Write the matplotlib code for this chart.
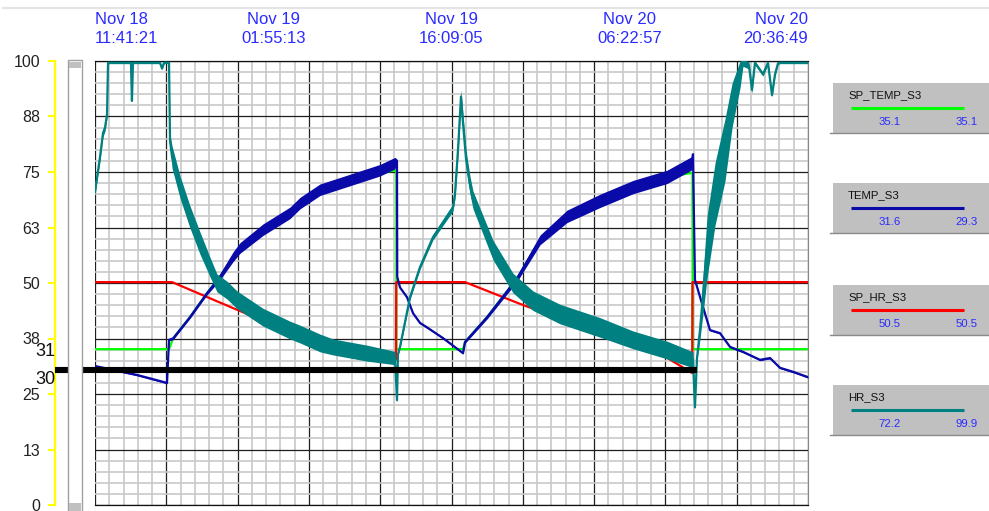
import matplotlib.pyplot as plt
from matplotlib.patches import Rectangle
from matplotlib.ticker import FixedLocator, MultipleLocator

plt.rcParams['font.family'] = ['Liberation Sans', 'DejaVu Sans']

# time axis: hours since Nov 18 11:41:21 (window ends Nov 20 20:36:49)
span_h = 56.924
time_labels = ['Nov 18\n11:41:21', 'Nov 19\n01:55:13', 'Nov 19\n16:09:05',
               'Nov 20\n06:22:57', 'Nov 20\n20:36:49']
y_ticks = [0, 12.5, 25, 37.5, 50, 62.5, 75, 87.5, 100]
y_tick_labels = ['0', '13', '25', '38', '50', '63', '75', '88', '100']

# HR_S3 (teal) + half width of its noise band
hr_t = [0.00, 0.40, 0.64, 0.80, 0.96, 1.04, 2.87, 2.95, 3.03, 5.19, 5.35, 5.51, 5.91,
        5.99, 6.15, 6.79, 7.58, 8.38, 9.18, 9.74, 10.54, 11.34, 13.41, 15.57, 16.37, 17.96, 19.00, 21.72, 23.95,
        24.11, 24.19, 24.35, 25.15, 25.95, 26.98, 28.58, 28.74, 28.98, 29.22, 29.38, 29.62, 29.94, 30.18,
        31.78, 33.37, 34.97, 37.13, 40.32, 42.95, 45.67, 47.74,
        47.90, 48.06, 48.30, 48.62, 48.86, 49.50, 50.30, 50.86, 51.50, 51.73, 52.21, 52.45, 52.69, 53.33,
        53.73, 54.05, 54.29, 54.53, 54.69, 56.92]
hr_v = [70.5, 78.4, 83.8, 85.0, 88.0, 99.6, 99.6, 91.0, 99.6, 99.6, 98.3, 99.6, 99.6,
        82.0, 78.4, 71.6, 64.9, 59.0, 53.6, 50.0, 48.4, 46.2, 42.3, 39.4, 38.5, 36.5, 35.6, 34.2, 33.1,
        23.6, 34.0, 35.6, 46.8, 53.6, 60.3, 67.0, 70.0, 80.0, 92.0, 86.0, 78.0, 72.0, 68.7,
        57.4, 50.0, 46.0, 43.0, 40.0, 37.2, 34.9, 32.7,
        22.0, 33.0, 39.4, 50.0, 58.0, 70.0, 80.0, 90.0, 97.0, 99.6, 99.0, 93.5, 99.6, 97.0,
        99.6, 92.3, 97.0, 99.5, 99.6, 99.6]
hr_noise = [0.5, 0.8, 0.8, 0.8, 0.8, 0.2, 0.2, 0.4, 0.2, 0.2, 0.2, 0.2, 0.2,
            1.5, 2.5, 2.5, 2.5, 2.5, 2.2, 2.0, 2.0, 2.0, 2.0, 2.0, 2.0, 2.0, 1.8, 1.8, 1.5,
            0.4, 0.4, 0.4, 0.5, 0.5, 0.6, 0.8, 1.0, 1.5, 1.5, 2.0, 2.0, 2.0, 2.0,
            2.2, 2.2, 2.2, 2.2, 2.2, 2.0, 2.0, 1.8,
            0.4, 0.4, 2.0, 5.0, 7.0, 7.0, 7.0, 5.0, 3.0, 0.8, 0.8, 0.8, 0.4, 0.4,
            0.4, 0.4, 0.4, 0.3, 0.2, 0.2]

# TEMP_S3 (dark blue)
temp_t = [0.00, 3.35, 5.75, 5.91, 6.23, 7.58, 8.94, 9.98, 11.02, 11.58, 13.41, 15.57, 16.37, 17.96, 20.36, 22.75, 23.95, 24.11,
          24.13, 24.35, 24.91, 25.39, 25.95, 26.51, 27.78, 29.38, 29.54, 31.30, 33.69, 35.53, 37.68, 40.32, 42.95, 45.67, 47.66, 47.74,
          47.90, 48.54, 49.10, 49.90, 50.70, 51.73, 53.09, 53.89, 54.69, 55.73, 56.92]
temp_v = [31.3, 29.3, 27.5, 37.2, 37.5, 42.3, 47.7, 51.4, 55.9, 57.9, 62.0, 65.8, 68.0, 71.0, 73.2, 75.4, 77.0, 77.5,
          51.4, 49.0, 46.8, 43.2, 41.0, 40.0, 37.6, 34.2, 36.7, 42.3, 51.0, 59.7, 65.0, 68.5, 71.6, 73.9, 77.0, 79.0,
          50.7, 44.6, 39.4, 38.7, 35.6, 34.5, 32.7, 33.1, 30.9, 30.0, 28.8]
temp_noise = [0.2, 0.2, 0.2, 0.2, 0.3, 0.3, 0.4, 0.7, 1.1, 1.2, 1.3, 1.3, 1.3, 1.3, 1.3, 1.3, 1.3, 0.4,
              0.2, 0.2, 0.2, 0.2, 0.2, 0.2, 0.2, 0.2, 0.3, 0.4, 0.7, 1.1, 1.4, 1.5, 1.5, 1.5, 1.5, 0.4,
              0.2, 0.2, 0.2, 0.2, 0.2, 0.2, 0.2, 0.2, 0.2, 0.2, 0.2]

# SP_TEMP_S3 (green)
sp_temp_t = [0.00, 5.91, 6.23, 7.58, 8.94, 9.98, 11.02, 13.41, 15.57, 17.96, 20.36, 22.75, 24.05,
             24.07, 29.38, 29.54, 31.30, 33.69, 35.53, 37.68, 40.32, 42.95, 45.67, 47.70, 47.72, 56.92]
sp_temp_v = [35.1, 35.1, 37.5, 42.3, 47.7, 51.4, 55.9, 62.0, 65.8, 71.0, 73.2, 74.8, 75.4,
             35.1, 35.1, 36.7, 42.3, 51.0, 59.7, 65.0, 68.5, 71.6, 73.9, 74.8, 35.1, 35.1]

# SP_HR_S3 (red)
sp_hr_t = [0.00, 6.15, 10.06, 13.41, 16.37, 20.36, 24.03, 24.05, 29.54, 33.93, 37.13, 40.32, 44.31, 47.68, 47.70, 56.92]
sp_hr_v = [50.2, 50.2, 45.5, 41.5, 38.0, 35.0, 32.7, 50.2, 50.2, 45.3, 42.0, 39.5, 35.5, 29.7, 50.2, 50.2]

# reference cursor line
ref_level = 30.4
ref_start_h = -3.2
ref_end_h = 48.06

legend_names = ['SP_TEMP_S3', 'TEMP_S3', 'SP_HR_S3', 'HR_S3']
legend_first = ['35.1', '31.6', '50.5', '72.2']
legend_last = ['35.1', '29.3', '50.5', '99.9']

C_GREEN = '#00ff00'
C_BLUE = '#0a0aa8'
C_RED = '#ff0000'
C_TEAL = '#008080'
legend_colors = [C_GREEN, C_BLUE, C_RED, C_TEAL]

W, H = 989, 511
fig = plt.figure(figsize=(W / 100, H / 100), dpi=100)
fig.patch.set_facecolor('white')

ax = fig.add_axes([95 / W, 6 / H, 713 / W, 444 / H])
ax.set_xlim(0, span_h)
ax.set_ylim(0, 100)

ax.xaxis.set_major_locator(FixedLocator([i * span_h / 10 for i in range(11)]))
ax.xaxis.set_minor_locator(FixedLocator([i * span_h / 50 for i in range(51)]))
ax.yaxis.set_major_locator(FixedLocator(y_ticks))
ax.yaxis.set_minor_locator(MultipleLocator(2.5))
ax.set_yticklabels(y_tick_labels)
ax.set_axisbelow(True)
ax.grid(True, which='minor', color='#c8c8c8', linewidth=1.2)
ax.grid(True, which='major', color='#1e1e1e', linewidth=0.9)

ax.tick_params(axis='x', which='both', length=0, labelbottom=False)
ax.tick_params(axis='y', which='minor', length=0)
ax.tick_params(axis='y', which='major', length=5, width=1.5, color='#ffff00',
               labelsize=11.5, labelcolor='#222222', pad=5.5)
ax.spines['left'].set_position(('outward', 29))
ax.spines['left'].set_color('#ffff00')
ax.spines['left'].set_linewidth(1.6)
for s in ['top', 'bottom']:
    ax.spines[s].set_color('#111111')
    ax.spines[s].set_linewidth(0.9)
ax.spines['right'].set_color('#888888')

# series
ax.plot(sp_temp_t, sp_temp_v, color=C_GREEN, lw=1.6, zorder=2)
ax.plot(sp_hr_t, sp_hr_v, color=C_RED, lw=1.6, zorder=2.5)

temp_lo = [v - n for v, n in zip(temp_v, temp_noise)]
temp_hi = [v + n for v, n in zip(temp_v, temp_noise)]
ax.fill_between(temp_t, temp_lo, temp_hi, color=C_BLUE, lw=0, zorder=3)
ax.plot(temp_t, temp_v, color=C_BLUE, lw=1.6, zorder=3)

hr_lo = [v - n for v, n in zip(hr_v, hr_noise)]
hr_hi = [v + n for v, n in zip(hr_v, hr_noise)]
ax.fill_between(hr_t, hr_lo, hr_hi, color=C_TEAL, lw=0, zorder=4)
ax.plot(hr_t, hr_v, color=C_TEAL, lw=1.6, zorder=4)

ax.plot([ref_start_h, ref_end_h], [ref_level, ref_level], color='black', lw=4.4,
        solid_capstyle='butt', clip_on=False, zorder=6)

# time labels on top
ax_top = ax.twiny()
ax_top.set_xlim(0, span_h)
ax_top.set_xticks([i * span_h / 4 for i in range(5)])
ax_top.set_xticklabels(time_labels)
ax_top.tick_params(axis='x', length=0, pad=11, labelsize=12, labelcolor='#2b2bff')
for s in ax_top.spines.values():
    s.set_visible(False)
tl = ax_top.get_xticklabels()
for lab in tl:
    lab.set_linespacing(1.3)
tl[0].set_horizontalalignment('left')
tl[-1].set_horizontalalignment('right')

# pixel overlay for the panel furniture
ov = fig.add_axes([0, 0, 1, 1], zorder=10)
ov.set_xlim(0, W)
ov.set_ylim(H, 0)
ov.axis('off')

ov.plot([3, W], [8, 8], color='#e4e4e4', lw=1.5)

# scroll bar
ov.add_patch(Rectangle((68, 60), 14, 452, fc='white', ec='#a0a0a0', lw=1))
ov.add_patch(Rectangle((69, 62), 12, 6, fc='#c0c0c0', ec='none'))
ov.add_patch(Rectangle((69, 503), 12, 8, fc='#c0c0c0', ec='none'))

ov.text(55, 352, '31', ha='right', va='center', fontsize=13, color='#111111')
ov.text(55, 380, '30', ha='right', va='center', fontsize=13, color='#111111')

box_tops = [83, 183, 285, 385]
for top, name, col, v1, v2 in zip(box_tops, legend_names, legend_colors, legend_first, legend_last):
    ov.add_patch(Rectangle((833, top), 160, 50, fc='#c0c0c0', ec='none'))
    ov.plot([830, W], [top + 50.5, top + 50.5], color='#8a8a8a', lw=1)
    ov.text(848, top + 12, name, ha='left', va='center', fontsize=8.2, color='#111111')
    ov.plot([851, 964], [top + 25, top + 25], color=col, lw=2.2, solid_capstyle='butt')
    ov.text(901, top + 39, v1, ha='right', va='center', fontsize=8.2, color='#2b2bff')
    ov.text(978, top + 39, v2, ha='right', va='center', fontsize=8.2, color='#2b2bff')

fig.savefig('out.png', dpi=100, facecolor='white')
plt.close(fig)
